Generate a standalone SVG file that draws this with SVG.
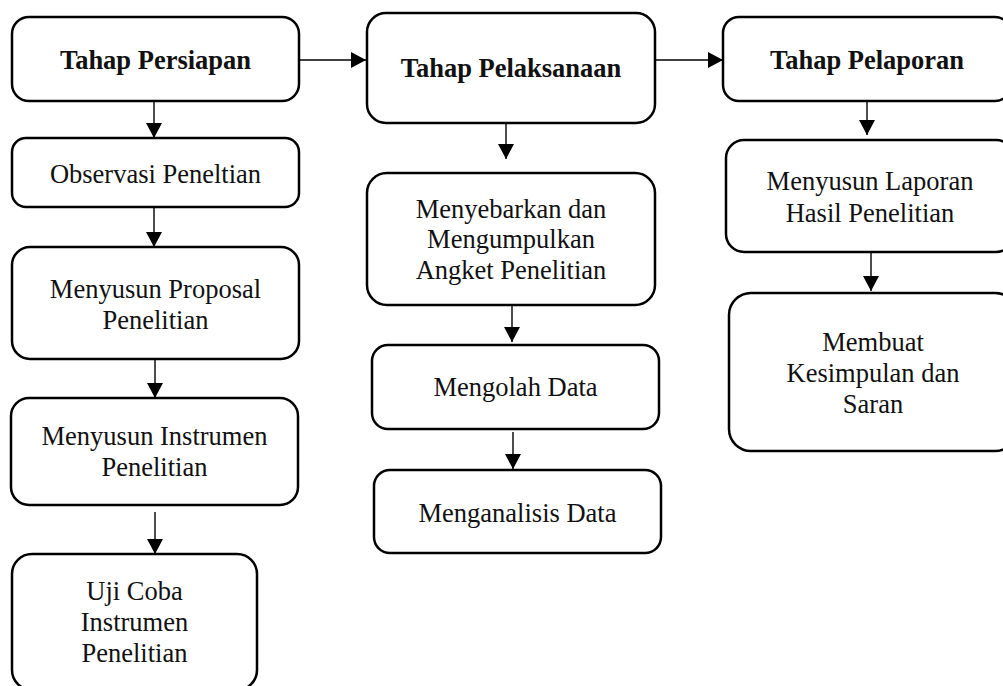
<svg xmlns="http://www.w3.org/2000/svg" width="1003" height="686" viewBox="0 0 1003 686">
<style>
.box{fill:#fff;stroke:#000;stroke-width:2.5}
.t{font-family:"Liberation Serif","Times New Roman",serif;font-size:26.5px;fill:#111;text-anchor:middle}
.b{font-weight:bold}
.c{stroke:#000;stroke-width:1.4;fill:none;marker-end:url(#ah)}
</style>
<defs>
<marker id="ah" markerUnits="userSpaceOnUse" viewBox="0 0 15 16" refX="15" refY="8" markerWidth="15" markerHeight="16" orient="auto">
<path d="M0,0 L15,8 L0,16 z" fill="#000"/>
</marker>
</defs>
<rect width="1003" height="686" fill="#fff"/>
<g id="connectors">
<line class="c" x1="299" y1="60" x2="366" y2="60"/>
<line class="c" x1="655" y1="60" x2="723" y2="60"/>
<line class="c" x1="154" y1="101" x2="154" y2="138"/>
<line class="c" x1="154" y1="207" x2="154" y2="247"/>
<line class="c" x1="155" y1="359" x2="155" y2="398"/>
<line class="c" x1="155" y1="512" x2="155" y2="554"/>
<line class="c" x1="506" y1="123" x2="506" y2="159"/>
<line class="c" x1="512" y1="305" x2="512" y2="342"/>
<line class="c" x1="513" y1="432" x2="513" y2="469"/>
<line class="c" x1="867" y1="98" x2="867" y2="135"/>
<line class="c" x1="871" y1="252" x2="871" y2="291"/>
</g>
<g id="persiapan">
<rect class="box" x="12" y="17" width="287" height="84" rx="17"/>
<text class="t b" x="155.5" y="69">Tahap Persiapan</text>
</g>
<g id="observasi">
<rect class="box" x="12" y="138" width="287" height="69" rx="14"/>
<text class="t" x="155.5" y="183">Observasi Peneltian</text>
</g>
<g id="proposal">
<rect class="box" x="12" y="247" width="287" height="112" rx="18"/>
<text class="t" x="155.5" y="298">Menyusun Proposal</text>
<text class="t" x="155.5" y="329">Penelitian</text>
</g>
<g id="instrumen">
<rect class="box" x="11" y="398" width="287" height="107" rx="18"/>
<text class="t" x="154.5" y="445">Menyusun Instrumen</text>
<text class="t" x="154.5" y="476">Penelitian</text>
</g>
<g id="ujicoba">
<rect class="box" x="12" y="554" width="245" height="136" rx="20"/>
<text class="t" x="134.5" y="600">Uji Coba</text>
<text class="t" x="134.5" y="631">Instrumen</text>
<text class="t" x="134.5" y="662">Penelitian</text>
</g>
<g id="pelaksanaan">
<rect class="box" x="367" y="13" width="288" height="110" rx="19"/>
<text class="t b" x="511" y="77">Tahap Pelaksanaan</text>
</g>
<g id="menyebarkan">
<rect class="box" x="367" y="173" width="288" height="132" rx="20"/>
<text class="t" x="511" y="218">Menyebarkan dan</text>
<text class="t" x="511" y="248">Mengumpulkan</text>
<text class="t" x="511" y="279">Angket Penelitian</text>
</g>
<g id="mengolah">
<rect class="box" x="372" y="345" width="287" height="84" rx="16"/>
<text class="t" x="515.5" y="396">Mengolah Data</text>
</g>
<g id="menganalisis">
<rect class="box" x="374" y="470" width="287" height="83" rx="16"/>
<text class="t" x="517.5" y="522">Menganalisis Data</text>
</g>
<g id="pelaporan">
<rect class="box" x="723" y="17" width="288" height="84" rx="16"/>
<text class="t b" x="867" y="69">Tahap Pelaporan</text>
</g>
<g id="laporan">
<rect class="box" x="726" y="140" width="288" height="112" rx="18"/>
<text class="t" x="870" y="190">Menyusun Laporan</text>
<text class="t" x="870" y="222">Hasil Penelitian</text>
</g>
<g id="kesimpulan">
<rect class="box" x="729" y="293" width="288" height="158" rx="22"/>
<text class="t" x="873" y="351">Membuat</text>
<text class="t" x="873" y="382">Kesimpulan dan</text>
<text class="t" x="873" y="413">Saran</text>
</g>
</svg>
